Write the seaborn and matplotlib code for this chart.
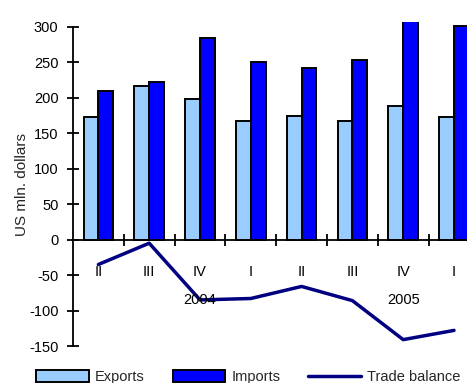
import numpy as np
import pandas as pd
import matplotlib
matplotlib.use("Agg")
import matplotlib.pyplot as plt
from matplotlib.ticker import FixedLocator
import seaborn as sns

# Quarterly trade data, 2003 Q2 - 2005 Q1 (US mln. dollars)
periods = ["2003 II", "2003 III", "2003 IV", "2004 I", "2004 II", "2004 III", "2004 IV", "2005 I"]
quarter_labels = ["II", "III", "IV", "I", "II", "III", "IV", "I"]
exports = [173, 217, 198, 167, 175, 167, 189, 173]
imports = [209, 223, 285, 251, 242, 253, 330, 301]
trade_balance = [-35, -5, -85, -83, -66, -86, -141, -128]
year_labels = ["2004", "2005"]
year_label_pos = [2, 6]

series_names = ["Exports", "Imports"]
bar_colors = ["#99CCFF", "#0000FF"]
line_color = "#000080"

sns.set_theme(style="white")
plt.rcParams["font.family"] = ["Liberation Sans", "DejaVu Sans"]
plt.rcParams["font.size"] = 10.5
plt.rcParams["axes.unicode_minus"] = False

df = pd.DataFrame({
    "period": periods * 2,
    "series": [series_names[0]] * len(periods) + [series_names[1]] * len(periods),
    "value": exports + imports,
})

fig = plt.figure(figsize=(4.67, 3.83), dpi=100)
ax = fig.add_axes([73 / 467, 37 / 383, 406.4 / 467, 324 / 383])

sns.barplot(data=df, x="period", y="value", hue="series", order=periods,
            hue_order=series_names, palette=bar_colors, width=0.58,
            edgecolor="black", linewidth=1.4, saturation=1, ax=ax, legend=True)
sns.lineplot(x=np.arange(len(periods)), y=trade_balance, color=line_color,
             linewidth=2.5, ax=ax, label="Trade balance", legend=False)

ax.set_xlim(-0.5, len(periods) - 0.5)
ax.set_ylim(-150, 307)

# axes styling
for side in ["top", "right"]:
    ax.spines[side].set_visible(False)
ax.spines["left"].set_bounds(-150, 300)
ax.spines["bottom"].set_position(("data", 0))
for side in ["left", "bottom"]:
    ax.spines[side].set_color("black")
    ax.spines[side].set_linewidth(1.3)

ax.set_yticks(np.arange(-150, 301, 50))
ax.tick_params(axis="y", direction="inout", length=9, width=1.3, pad=6,
               colors="black", labelsize=10.5, left=True)

ax.set_xticks(np.arange(len(periods)))
ax.set_xticklabels(quarter_labels)
ax.xaxis.set_minor_locator(FixedLocator(np.arange(0.5, len(periods), 1.0)))
ax.tick_params(axis="x", which="major", length=0, pad=18, labelsize=10.5,
               colors="black", bottom=True)
ax.tick_params(axis="x", which="minor", direction="inout", length=8.5,
               width=1.3, color="black", bottom=True)

ax.set_xlabel("")
ax.set_ylabel("US mln. dollars", fontsize=11, labelpad=0)

for lbl, xpos in zip(year_labels, year_label_pos):
    ax.annotate(lbl, xy=(xpos, 0), xycoords="data", xytext=(0, -60),
                textcoords="offset pixels", ha="center", va="center",
                fontsize=10.5, color="black")

handles, labels = ax.get_legend_handles_labels()
if ax.get_legend() is not None:
    ax.get_legend().remove()
fig.legend(handles, labels, loc="center left", bbox_to_anchor=(36 / 467, 6 / 383),
           ncol=3, frameon=False, handlelength=3.6, handleheight=0.9,
           handletextpad=0.45, columnspacing=1.9, borderpad=0, borderaxespad=0,
           fontsize=10.5)

fig.savefig("out.png", dpi=100)
